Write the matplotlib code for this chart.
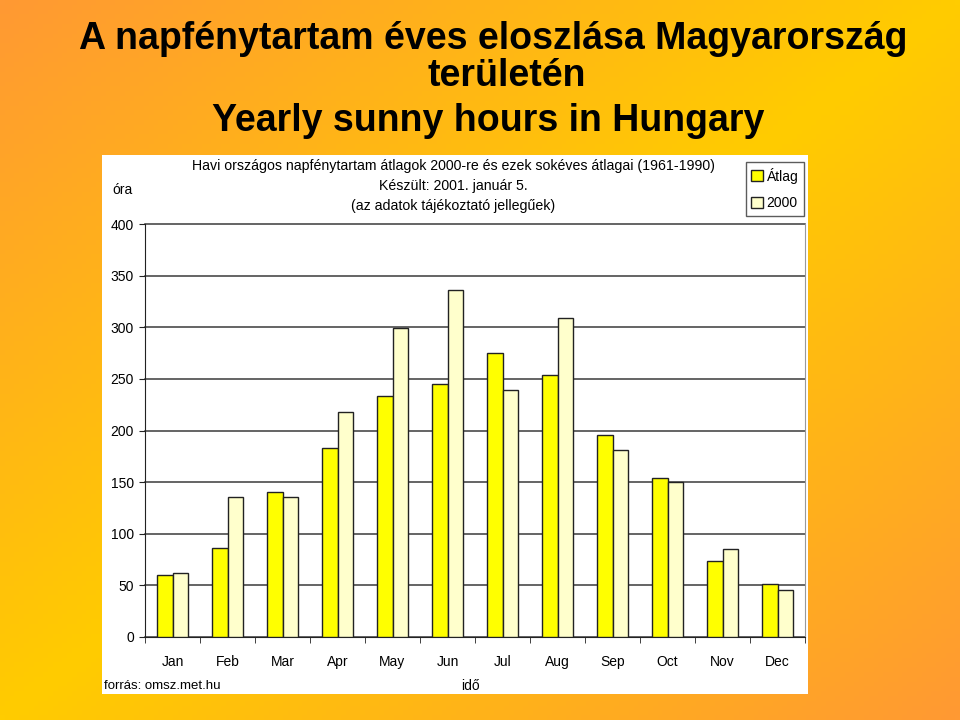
import numpy as np
import matplotlib
matplotlib.use("Agg")
import matplotlib.pyplot as plt
from matplotlib.patches import Rectangle

plt.rcParams['font.family'] = ['Liberation Sans', 'DejaVu Sans']

months = ["Jan", "Feb", "Mar", "Apr", "May", "Jun", "Jul", "Aug", "Sep", "Oct", "Nov", "Dec"]
atlag = [60, 86, 140, 183, 233, 245, 275, 254, 196, 154, 74, 51]
y2000 = [62, 136, 136, 218, 299, 336, 239, 309, 181, 150, 85, 46]
yticks = [0, 50, 100, 150, 200, 250, 300, 350, 400]

W, H = 960, 720
fig = plt.figure(figsize=(W / 100, H / 100), dpi=100)

# background: orange in two corners, yellow along the other diagonal
bg = fig.add_axes([0, 0, 1, 1])
xx, yy = np.meshgrid(np.linspace(0, 1, 200), np.linspace(0, 1, 150))
t = np.abs(xx + yy - 1)
orange = np.array([255, 153, 51]) / 255
yellow = np.array([255, 204, 0]) / 255
img = yellow[None, None, :] * (1 - t[..., None]) + orange[None, None, :] * t[..., None]
bg.imshow(img, extent=[0, 1, 0, 1], aspect='auto', origin='upper')
bg.set_axis_off()

# titles
fig.text(493 / W, 1 - 39 / H, "A napfénytartam éves eloszlása Magyarország",
         ha='center', va='center', fontsize=27, fontweight='bold')
fig.text(507 / W, 1 - 76 / H, "területén",
         ha='center', va='center', fontsize=27, fontweight='bold')
fig.text(488 / W, 1 - 121 / H, "Yearly sunny hours in Hungary",
         ha='center', va='center', fontsize=27, fontweight='bold')

# white chart panel
fig.patches.append(Rectangle((102 / W, 1 - 694 / H), 706 / W, 539 / H,
                             transform=fig.transFigure, facecolor='white',
                             edgecolor='none', zorder=1))

ax = fig.add_axes([145 / W, 1 - 637 / H, 660 / W, 413 / H])
ax.set_zorder(2)
ax.patch.set_alpha(0)
x = np.arange(len(months))
bw = 0.29
ax.bar(x - bw / 2, atlag, bw, color='#ffff00', edgecolor='#222222', linewidth=1, label='Átlag', zorder=3)
ax.bar(x + bw / 2, y2000, bw, color='#ffffcc', edgecolor='#222222', linewidth=1, label='2000', zorder=3)
ax.set_xlim(-0.5, len(months) - 0.5)
ax.set_ylim(0, 400)
ax.set_yticks(yticks)
ax.set_xticks(x)
ax.set_xticklabels(months)
ax.set_xticks(np.arange(-0.5, len(months), 1), minor=True)
ax.tick_params(axis='x', which='major', length=0, pad=13, labelsize=10)
ax.tick_params(axis='x', which='minor', length=4, direction='out', color='#222222')
ax.tick_params(axis='y', length=4, direction='out', labelsize=10, pad=4, color='#222222')
ax.yaxis.grid(True, color='#3a3a3a', linewidth=1.1, clip_on=False)
ax.set_axisbelow(True)
ax.spines['top'].set_visible(False)
ax.spines['right'].set_color('#999999')
ax.spines['left'].set_color('#222222')
ax.spines['bottom'].set_color('#222222')

# chart texts
fig.text(453 / W, 1 - 166 / H, "Havi országos napfénytartam átlagok 2000-re és ezek sokéves átlagai (1961-1990)",
         ha='center', va='center', fontsize=10.2, zorder=3)
fig.text(453 / W, 1 - 186 / H, "Készült: 2001. január 5.",
         ha='center', va='center', fontsize=10.2, zorder=3)
fig.text(453 / W, 1 - 206 / H, "(az adatok tájékoztató jellegűek)",
         ha='center', va='center', fontsize=10.2, zorder=3)
fig.text(123 / W, 1 - 190 / H, "óra", ha='center', va='center', fontsize=10, zorder=3)
fig.text(470 / W, 1 - 686 / H, "idő", ha='center', va='center', fontsize=10, zorder=3)
fig.text(104 / W, 1 - 686 / H, "forrás: omsz.met.hu", ha='left', va='center', fontsize=9.5, zorder=3)

leg = fig.legend(loc='upper right', bbox_to_anchor=(804 / W, 1 - 162 / H),
                 fontsize=10, frameon=True, fancybox=False, handlelength=0.8,
                 handleheight=0.8, handletextpad=0.3, borderpad=0.4,
                 labelspacing=0.9, borderaxespad=0)
leg.get_frame().set_edgecolor('#333333')
leg.get_frame().set_linewidth(1)
leg.set_zorder(4)

fig.savefig("out.png", dpi=100)
